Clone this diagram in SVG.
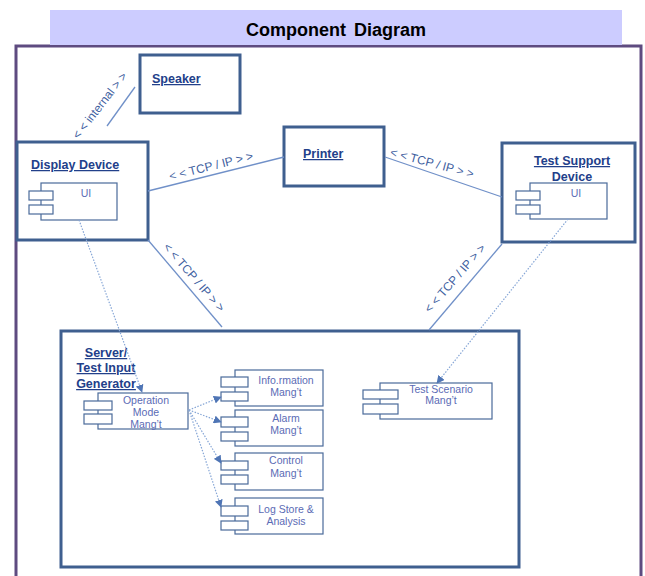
<svg xmlns="http://www.w3.org/2000/svg" width="645" height="576" viewBox="0 0 645 576">
  <defs>
    <style>
      .frame { fill: none; stroke: #5E4B80; stroke-width: 3; }
      .band { fill: #CCCCFF; }
      .title { font-family: "Liberation Sans", Arial, sans-serif; font-weight: bold; font-size: 18px; fill: #000; word-spacing: 3px; }
      .node { fill: #FFFFFF; stroke: #3F5F8F; stroke-width: 3; }
      .label { font-family: "Liberation Sans", Arial, sans-serif; font-weight: bold; font-size: 12.5px; fill: #22408A; text-decoration: underline; }
      .label-c { text-anchor: middle; }
      .comp { fill: #FFFFFF; stroke: #4A6A9A; stroke-width: 1.2; }
      .ctext { font-family: "Liberation Sans", Arial, sans-serif; font-size: 10.5px; fill: #5B6BB5; text-anchor: middle; }
      .link { stroke: #7090C8; stroke-width: 1.3; fill: none; }
      .dep { stroke: #86A6D6; stroke-width: 1.2; stroke-dasharray: 1.5 1.5; fill: none; marker-end: url(#arrow); }
      .stereo { font-family: "Liberation Sans", Arial, sans-serif; font-size: 12px; fill: #3F5F9F; text-anchor: middle; }
    </style>
    <marker id="arrow" viewBox="0 0 10 10" refX="9" refY="5" markerWidth="8" markerHeight="8" markerUnits="userSpaceOnUse" orient="auto">
      <path d="M0,0 L10,5 L0,10 z" fill="#4F75B5"/>
    </marker>
  </defs>

  <!-- outer frame and title band -->
  <rect class="frame" x="16" y="46" width="625" height="560"/>
  <rect class="band" x="50" y="10" width="572" height="35"/>
  <text class="title" x="336" y="36" text-anchor="middle">Component  Diagram</text>

  <!-- nodes -->
  <g id="speaker">
    <rect class="node" x="140" y="55" width="100" height="58"/>
    <text class="label" x="152" y="83">Speaker</text>
  </g>

  <g id="display-device">
    <rect class="node" x="17" y="142" width="131" height="98"/>
    <text class="label" x="31" y="169">Display Device</text>
    <g id="display-ui">
      <rect class="comp" x="41" y="183" width="76" height="37"/>
      <rect class="comp" x="29" y="191" width="24" height="9"/>
      <rect class="comp" x="29" y="205" width="24" height="9"/>
      <text class="ctext" x="86" y="197">UI</text>
    </g>
  </g>

  <g id="printer">
    <rect class="node" x="284" y="127" width="100" height="59"/>
    <text class="label" x="303" y="158">Printer</text>
  </g>

  <g id="test-support-device">
    <rect class="node" x="502" y="143" width="133" height="99"/>
    <text class="label label-c" x="572" y="165">Test Support</text>
    <text class="label label-c" x="572" y="181" style="text-decoration:none">Device</text>
    <g id="test-support-ui">
      <rect class="comp" x="530" y="183" width="77" height="36"/>
      <rect class="comp" x="516" y="191" width="24" height="9"/>
      <rect class="comp" x="516" y="205" width="24" height="9"/>
      <text class="ctext" x="576" y="197">UI</text>
    </g>
  </g>

  <g id="server">
    <rect class="node" x="61" y="331" width="458" height="236"/>
    <text class="label label-c" x="106" y="357">Server/</text>
    <text class="label label-c" x="106" y="372">Test Input</text>
    <text class="label label-c" x="106" y="388">Generator</text>

    <g id="operation-mode">
      <rect class="comp" x="98" y="393" width="90" height="36"/>
      <rect class="comp" x="84" y="401" width="28" height="9"/>
      <rect class="comp" x="84" y="414" width="28" height="10"/>
      <text class="ctext" x="146" y="404">Operation</text>
      <text class="ctext" x="146" y="416">Mode</text>
      <text class="ctext" x="146" y="428">Mang’t</text>
    </g>

    <g id="information-mgmt">
      <rect class="comp" x="235" y="370" width="88" height="36"/>
      <rect class="comp" x="221" y="377" width="27" height="10"/>
      <rect class="comp" x="221" y="392" width="27" height="9"/>
      <text class="ctext" x="286" y="384">Info.rmation</text>
      <text class="ctext" x="286" y="396">Mang’t</text>
    </g>

    <g id="alarm-mgmt">
      <rect class="comp" x="235" y="410" width="88" height="36"/>
      <rect class="comp" x="221" y="417" width="27" height="10"/>
      <rect class="comp" x="221" y="432" width="27" height="9"/>
      <text class="ctext" x="286" y="422">Alarm</text>
      <text class="ctext" x="286" y="434">Mang’t</text>
    </g>

    <g id="control-mgmt">
      <rect class="comp" x="235" y="453" width="88" height="37"/>
      <rect class="comp" x="221" y="461" width="27" height="9"/>
      <rect class="comp" x="221" y="475" width="27" height="9"/>
      <text class="ctext" x="286" y="464">Control</text>
      <text class="ctext" x="286" y="477">Mang’t</text>
    </g>

    <g id="log-store">
      <rect class="comp" x="235" y="498" width="88" height="36"/>
      <rect class="comp" x="221" y="506" width="27" height="10"/>
      <rect class="comp" x="221" y="521" width="27" height="9"/>
      <text class="ctext" x="286" y="513">Log Store &amp;</text>
      <text class="ctext" x="286" y="525">Analysis</text>
    </g>

    <g id="test-scenario">
      <rect class="comp" x="380" y="383" width="112" height="36"/>
      <rect class="comp" x="363" y="390" width="35" height="9"/>
      <rect class="comp" x="363" y="404" width="35" height="10"/>
      <text class="ctext" x="441" y="393">Test Scenario</text>
      <text class="ctext" x="441" y="404">Mang’t</text>
    </g>
  </g>

  <!-- connectors -->
  <g id="connectors">
    <line class="link" x1="135" y1="87" x2="107" y2="126"/>
    <text class="stereo" transform="translate(103,108) rotate(-52)">&lt; &lt; internal &gt; &gt;</text>

    <line class="link" x1="148" y1="191" x2="284" y2="157"/>
    <text class="stereo" transform="translate(212,170) rotate(-14)">&lt; &lt; TCP / IP &gt; &gt;</text>

    <line class="link" x1="385" y1="157" x2="502" y2="197"/>
    <text class="stereo" transform="translate(431,167) rotate(15)">&lt; &lt; TCP / IP &gt; &gt;</text>

    <line class="link" x1="148" y1="240" x2="222" y2="327"/>
    <text class="stereo" transform="translate(191,280) rotate(49)">&lt; &lt; TCP / IP &gt; &gt;</text>

    <line class="link" x1="502" y1="244" x2="429" y2="330"/>
    <text class="stereo" transform="translate(458,281) rotate(-49)">&lt; &lt; TCP / IP &gt; &gt;</text>

    <line class="dep" x1="79" y1="220" x2="142" y2="392"/>
    <line class="dep" x1="568" y1="219" x2="437" y2="383"/>
    <line class="dep" x1="189" y1="410" x2="221" y2="397"/>
    <line class="dep" x1="189" y1="410" x2="221" y2="422"/>
    <line class="dep" x1="189" y1="410" x2="221" y2="463"/>
    <line class="dep" x1="189" y1="410" x2="221" y2="507"/>
  </g>
</svg>
